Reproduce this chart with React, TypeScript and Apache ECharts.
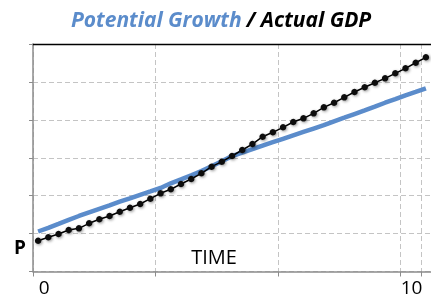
import React, { useEffect, useRef } from "react";
import * as echarts from "echarts";

// Potential growth (blue) and actual GDP (black dotted), in y-units (0..6)
const potentialGrowth = [
  1.055, 1.15, 1.255, 1.361, 1.464, 1.559, 1.651, 1.743, 1.841, 1.93,
  2.023, 2.112, 2.202, 2.326, 2.431, 2.537, 2.648, 2.777, 2.909, 3.043,
  3.135, 3.227, 3.32, 3.41, 3.5, 3.59, 3.68, 3.77, 3.86, 3.961,
  4.056, 4.153, 4.248, 4.346, 4.451, 4.546, 4.647, 4.736, 4.831,
];
const actualGDP = [
  0.812, 0.902, 0.989, 1.094, 1.139, 1.271, 1.377, 1.464, 1.577, 1.682,
  1.78, 1.92, 2.062, 2.168, 2.307, 2.439, 2.59, 2.764, 2.896, 3.046,
  3.204, 3.362, 3.555, 3.671, 3.803, 3.942, 4.04, 4.172, 4.33, 4.451,
  4.594, 4.734, 4.858, 4.979, 5.095, 5.227, 5.359, 5.506, 5.649,
];
const tickLabels: Record<number, string> = { 0: "0", 36: "10" };
const periods = actualGDP.map((_, i) => String(i));

const BLUE = "#5B8CCB";
const AXIS_GRAY = "#8C8C8C";
const GRID_GRAY = "#C4C4C4";

export default function App() {
  const ref = useRef<HTMLDivElement>(null);
  useEffect(() => {
    if (!ref.current) return;
    const chart = echarts.init(ref.current, undefined, { renderer: "svg" });
    chart.setOption({
      animation: false,
      title: {
        text: "{a|Potential Growth} {b|/ Actual GDP}",
        left: 71,
        top: 8,
        padding: 0,
        textStyle: {
          rich: {
            a: {
              color: BLUE,
              fontFamily: "Open Sans",
              fontStyle: "italic",
              fontWeight: "bold",
              fontSize: 21,
            },
            b: {
              color: "#000",
              fontFamily: "Open Sans",
              fontStyle: "italic",
              fontWeight: "bold",
              fontSize: 21,
            },
          },
        },
      },
      grid: { left: 33, top: 44, width: 401, height: 227.5 },
      xAxis: [
        {
          type: "category",
          data: periods,
          boundaryGap: true,
          axisLine: { lineStyle: { color: AXIS_GRAY, width: 1.5 } },
          axisTick: {
            show: true,
            interval: 11,
            length: 5,
            lineStyle: { color: AXIS_GRAY, width: 1 },
          },
          splitLine: {
            show: true,
            interval: 11,
            lineStyle: { color: GRID_GRAY, type: [5, 3], width: 1 },
          },
          axisLabel: {
            interval: 0,
            margin: 6,
            padding: [0, 0, 0, 12],
            color: "#000",
            fontFamily: "Open Sans",
            fontSize: 19,
            formatter: (_v: string, i: number) => tickLabels[i] ?? "",
          },
        },
        {
          type: "category",
          data: periods,
          position: "top",
          axisLine: { show: true, lineStyle: { color: "#000", width: 1.3 } },
          axisTick: { show: false },
          axisLabel: { show: false },
          splitLine: { show: false },
        },
      ],
      yAxis: {
        type: "value",
        min: 0,
        max: 6,
        interval: 1,
        axisLine: { show: true, lineStyle: { color: AXIS_GRAY, width: 1.5 } },
        axisTick: { show: true, length: 4, lineStyle: { color: AXIS_GRAY } },
        axisLabel: { show: false },
        splitLine: {
          show: true,
          lineStyle: { color: GRID_GRAY, type: [5, 3], width: 1 },
        },
      },
      graphic: [
        {
          type: "text",
          x: 214,
          y: 256,
          style: {
            text: "TIME",
            fill: "#000",
            font: '20px "Open Sans"',
            textAlign: "center",
            textVerticalAlign: "middle",
          },
        },
        {
          type: "text",
          x: 20,
          y: 247,
          style: {
            text: "P",
            fill: "#000",
            font: 'bold 19px "Open Sans"',
            textAlign: "center",
            textVerticalAlign: "middle",
          },
        },
      ],
      series: [
        {
          name: "Potential Growth",
          type: "line",
          data: potentialGrowth,
          xAxisIndex: 0,
          symbol: "none",
          lineStyle: { color: BLUE, width: 4.5 },
          z: 2,
        },
        {
          name: "Actual GDP",
          type: "line",
          data: actualGDP,
          xAxisIndex: 0,
          symbol: "circle",
          symbolSize: 6.5,
          lineStyle: { color: "#000", width: 1.5 },
          itemStyle: {
            color: "#111",
            shadowBlur: 3,
            shadowColor: "rgba(0,0,0,0.45)",
            shadowOffsetX: 1,
            shadowOffsetY: 1,
          },
          z: 3,
        },
      ],
    });
    return () => chart.dispose();
  }, []);
  return (
    <div
      ref={ref}
      style={{ position: "fixed", left: 0, top: 0, width: 431, height: 303 }}
    />
  );
}
